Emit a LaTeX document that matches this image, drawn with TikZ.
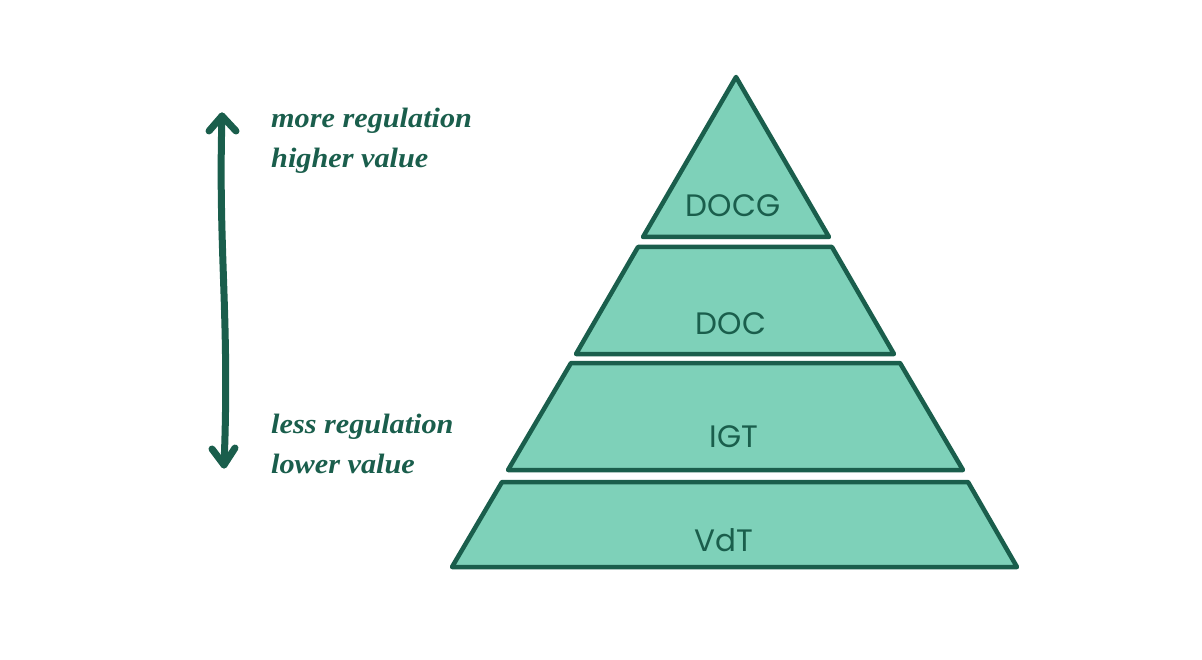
\documentclass[tikz,border=0pt]{standalone}
\usepackage{fontspec}
\setmainfont{Liberation Serif}
\newfontfamily\handfont{Poppins}
\definecolor{dkgreen}{HTML}{1A5E4C}
\definecolor{mint}{HTML}{7ED1B9}
\begin{document}
\begin{tikzpicture}[x=1pt,y=-1pt,
  tier/.style={draw=dkgreen,fill=mint,line width=4.5pt,line join=round},
  tierlabel/.style={font=\handfont\fontsize{31}{31}\selectfont,text=dkgreen,inner sep=0pt},
  sidetext/.style={font=\fontsize{28}{39.5}\selectfont\bfseries\itshape,text=dkgreen,align=left,anchor=north west,inner sep=0pt,xscale=1.08},
  bigarrow/.style={draw=dkgreen,line width=7pt,line cap=round,line join=round}]
\useasboundingbox (0,0) rectangle (1202,660);
% pyramid tiers
\draw[tier] (736,77) -- (829,237) -- (643,237) -- cycle;
\draw[tier] (638,247) -- (832,247) -- (894,354) -- (576,354) -- cycle;
\draw[tier] (571,363) -- (900,363) -- (963,470) -- (508,470) -- cycle;
\draw[tier] (502,482) -- (968,482) -- (1017,567) -- (452,567) -- cycle;
% labels
\node[tierlabel] (docg) at (733,206) {DOCG};
\node[tierlabel] (doc) at (731,324) {DOC};
\node[tierlabel] (igt) at (734,437) {IGT};
\node[tierlabel] (vdt) at (724,540) {VdT};
% side arrow
\coordinate (atop) at (222,116);
\coordinate (abot) at (224,465);
\draw[bigarrow] (atop) .. controls (218,250) and (230,320) .. (abot);
\draw[bigarrow] (209,131) -- (atop) -- (236,131);
\draw[bigarrow] (212,449) -- (abot) -- (235,448);
% side texts
\node[sidetext] (more) at (271,108) {more regulation\\higher value};
\node[sidetext] (less) at (271,414) {less regulation\\lower value};
\end{tikzpicture}
\end{document}
